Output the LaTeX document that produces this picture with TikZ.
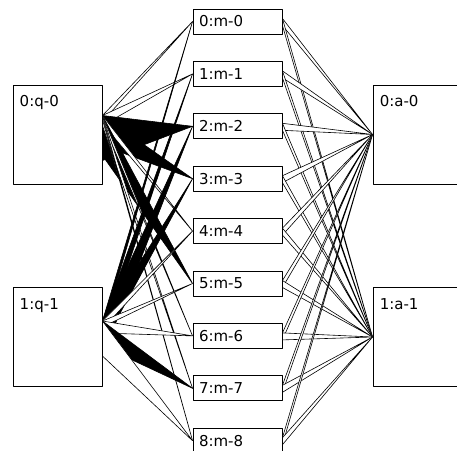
\documentclass[tikz,border=0pt]{standalone}
\usepackage{fontspec}
\newfontfamily\netfont{DejaVu Sans}
\usetikzlibrary{calc}
\pgfdeclarelayer{links}
\pgfsetlayers{links,main}

\begin{document}
\begin{tikzpicture}[x=1pt, y=-1pt, line join=round,
    unit/.style={draw, fill=white, line width=0.9pt, minimum width=89pt, minimum height=25pt,
        inner xsep=6pt, inner ysep=0pt, text width=77pt, align=left,
        font=\netfont\fontsize{15}{17}\selectfont},
    bigunit/.style={draw, fill=white, line width=0.9pt, minimum width=89pt, minimum height=99pt, inner sep=0pt},
    unitname/.style={anchor=north west, inner sep=0pt, font=\netfont\fontsize{15}{17}\selectfont},
    link/.style={line width=0.6pt}]
    \useasboundingbox (0,0) rectangle (457,450);
    \clip (0,0) rectangle (457,450);
    % input units
    \node[bigunit] (q0) at (57.5,134.5) {};
    \node[bigunit] (q1) at (57.5,337) {};
    \node[unitname] (q0-n) at ([shift={(7pt,-11pt)}]q0.north west) {0:q-0};
    \node[unitname] (q1-n) at ([shift={(7pt,-11pt)}]q1.north west) {1:q-1};
    % hidden units
    \foreach \i in {0,...,8}
        \node[unit] (m\i) at (237.5,{21.5+52.4*\i}) {\i:m-\i};
    % output units
    \node[bigunit, minimum width=97pt] (a0) at (421.5,134.5) {};
    \node[bigunit, minimum width=97pt] (a1) at (421.5,337) {};
    \node[unitname] (a0-n) at ([shift={(7pt,-11pt)}]a0.north west) {0:a-0};
    \node[unitname] (a1-n) at ([shift={(7pt,-11pt)}]a1.north west) {1:a-1};
    \coordinate (q0-o) at ($(q0.north east)!0.31!(q0.south east)$);
    \coordinate (q1-o) at ($(q1.north east)!0.34!(q1.south east)$);
    \begin{pgfonlayer}{links}
        % weights q -> m
        \foreach \s/\t/\w/\c in {q0/m0/6/white, q0/m1/10/white, q0/m2/45/black, q0/m3/30/black,
                q0/m4/8/white, q0/m5/40/black, q0/m6/6/white, q0/m7/10/white, q0/m8/4/white,
                q1/m0/10/black, q1/m1/20/black, q1/m2/36/black, q1/m3/25/black, q1/m4/8/white,
                q1/m5/6/white, q1/m6/12/white, q1/m7/25/black, q1/m8/35/white}
            \filldraw[link, fill=\c] (\s-o) -- ([yshift=-\w pt]\s-o) -- (\t.west) -- cycle;
        % weights m -> a
        \foreach \i in {0,...,8}
            \foreach \j in {0,1}
                \filldraw[link, fill=white] ([yshift=3pt]m\i.east) -- ([yshift=-4pt]m\i.east) -- (a\j.west) -- cycle;
    \end{pgfonlayer}
\end{tikzpicture}
\end{document}
